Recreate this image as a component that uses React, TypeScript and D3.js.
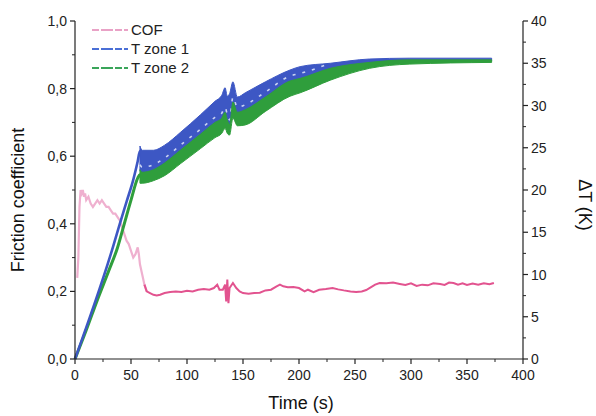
import React from "react";
import * as d3 from "d3";

const W = 596;
const H = 416;

// COF (left axis)
const cofTime = [2,3,4,5,6,7,8,9,10,12,14,16,18,20,22,24,26,28,30,32,34,36,38,40,42,44,46,48,50,52,54,56,57,58,60,62,64,67,70,73,76,80,85,90,95,100,105,110,115,120,124,127,129,132,134,135,136,137,138,141,144,147,150,155,160,165,170,175,180,183,186,190,195,200,205,208,213,218,224,230,235,240,246,251,256,260,264,268,272,278,284,290,295,300,305,310,315,320,326,330,334,338,342,346,350,355,360,365,370,374];
const cofValue = [0.24,0.30,0.45,0.50,0.49,0.50,0.48,0.49,0.47,0.48,0.46,0.45,0.46,0.47,0.46,0.47,0.46,0.45,0.45,0.44,0.43,0.43,0.42,0.41,0.39,0.37,0.35,0.34,0.32,0.30,0.31,0.33,0.31,0.28,0.25,0.22,0.20,0.195,0.19,0.188,0.19,0.195,0.198,0.2,0.198,0.202,0.2,0.205,0.207,0.205,0.21,0.22,0.205,0.205,0.22,0.17,0.235,0.165,0.21,0.225,0.21,0.2,0.195,0.193,0.195,0.196,0.203,0.205,0.215,0.22,0.215,0.212,0.213,0.21,0.2,0.205,0.198,0.205,0.207,0.21,0.206,0.203,0.2,0.198,0.2,0.204,0.212,0.22,0.225,0.224,0.226,0.222,0.219,0.224,0.216,0.22,0.218,0.224,0.222,0.219,0.226,0.225,0.22,0.224,0.219,0.223,0.22,0.224,0.221,0.225];

// Temperature rise phase (right axis, K)
const zone1RiseTime = [0,34,40,46,52,56,58,60];
const zone1Rise = [0,13.3,16.0,18.6,21.2,23.4,24.6,24.2];
const zone2RiseTime = [0,10,20,30,38,44,50,56,58,60];
const zone2Rise = [0,3.4,7.0,10.4,13.2,16.0,18.8,21.4,21.8,21.6];

// Temperature band phase (right axis, K)
const bandTime = [58,60,70,80,94,112,125,131,134,136,138,141,145,152,170,192,201,228,263,299,372];
const zone1Top = [25.2,24.7,24.7,25.3,26.8,28.9,30.5,31.2,32.1,31.1,31.4,32.8,31.0,31.5,32.8,34.2,34.6,35.0,35.5,35.6,35.6];
const zone2Top = [22.4,22.1,22.4,23.2,24.7,26.6,28.0,28.5,29.2,28.3,27.7,30.4,29.2,29.5,31.0,32.9,33.2,34.4,35.1,35.4,35.4];
const zone2Bottom = [20.8,20.8,21.1,21.7,23.1,24.9,26.2,26.7,27.3,26.7,26.5,28.5,27.6,27.7,29.3,31.1,31.5,33.0,34.4,34.9,35.1];

const xTicks = [0,50,100,150,200,250,300,350,400];
const yLeftTicks = [0,0.2,0.4,0.6,0.8,1.0];
const yRightTicks = [0,5,10,15,20,25,30,35,40];

const legendItems = [
  { label: "COF", color: "#e9a2c6" },
  { label: "T zone 1", color: "#4a6fd6" },
  { label: "T zone 2", color: "#3aa55a" },
];

const BLUE = "#3d57c4";
const GREEN = "#2f9e3c";
const PINK = "#e2538f";
const PINK_LIGHT = "#efb0cf";
const AXIS = "#222";
const FONT = "'Liberation Sans', Arial, sans-serif";

export default function App() {
  const left = 75, right = 523, top = 21, bottom = 359;
  const x = d3.scaleLinear().domain([0, 400]).range([left, right]);
  const yL = d3.scaleLinear().domain([0, 1]).range([bottom, top]);
  const yR = d3.scaleLinear().domain([0, 40]).range([bottom, top]);

  const idx = bandTime.map((_, i) => i);
  const curve = d3.curveMonotoneX;

  const blueArea = d3.area<number>()
    .x(i => x(bandTime[i]))
    .y0(i => yR(zone2Top[i]) + 1)
    .y1(i => yR(zone1Top[i]))
    .curve(curve)(idx) || "";
  const greenArea = d3.area<number>()
    .x(i => x(bandTime[i]))
    .y0(i => yR(zone2Bottom[i]))
    .y1(i => yR(zone2Top[i]))
    .curve(curve)(idx) || "";
  const dashLine = d3.line<number>()
    .x(i => x(bandTime[i]))
    .y(i => yR(zone2Top[i]) - 5)
    .curve(curve)(idx.filter(i => bandTime[i] < 250)) || "";

  const blueRise = d3.line<number>().x(i => x(zone1RiseTime[i])).y(i => yR(zone1Rise[i])).curve(curve)(zone1RiseTime.map((_, i) => i)) || "";
  const greenRise = d3.line<number>().x(i => x(zone2RiseTime[i])).y(i => yR(zone2Rise[i])).curve(curve)(zone2RiseTime.map((_, i) => i)) || "";

  const cIdx = cofTime.map((_, i) => i);
  const cofLine = d3.line<number>().x(i => x(cofTime[i])).y(i => yL(cofValue[i]));
  const cofEarly = cofLine(cIdx.filter(i => cofTime[i] <= 64)) || "";
  const cofLate = cofLine(cIdx.filter(i => cofTime[i] >= 62)) || "";

  const xMinor = d3.range(0, 401, 25).filter(v => !xTicks.includes(v));
  const yLMinor = [0.1, 0.3, 0.5, 0.7, 0.9];
  const yRMinor = d3.range(2.5, 40, 5);

  const fmtL = (v: number) => v.toFixed(1).replace(".", ",");

  return (
    <svg width={W} height={H} style={{ position: "absolute", left: 0, top: 0, background: "#fff" }} fontFamily={FONT}>
      {/* data */}
      <path d={cofEarly} fill="none" stroke={PINK_LIGHT} strokeWidth={2.2} />
      <path d={cofLate} fill="none" stroke={PINK} strokeWidth={2} />
      <path d={greenRise} fill="none" stroke={GREEN} strokeWidth={3} />
      <path d={blueRise} fill="none" stroke={BLUE} strokeWidth={2.6} />
      <path d={blueArea} fill={BLUE} stroke={BLUE} strokeWidth={1} />
      <path d={dashLine} fill="none" stroke="#c9d3f2" strokeWidth={1.6} strokeDasharray="3 7" />
      <path d={greenArea} fill={GREEN} stroke={GREEN} strokeWidth={1} />

      {/* axes */}
      <line x1={left} x2={left} y1={top} y2={bottom} stroke={AXIS} strokeWidth={1.2} />
      <line x1={right} x2={right} y1={top} y2={bottom} stroke={AXIS} strokeWidth={1.2} />
      <line x1={left} x2={right} y1={bottom} y2={bottom} stroke={AXIS} strokeWidth={1.2} />

      {xTicks.map(v => (
        <g key={"x" + v}>
          <line x1={x(v)} x2={x(v)} y1={bottom} y2={bottom + 5} stroke={AXIS} strokeWidth={1.2} />
          <text x={x(v)} y={bottom + 21} textAnchor="middle" fontSize={14} fill="#222">{v}</text>
        </g>
      ))}
      {xMinor.map(v => (
        <line key={"xm" + v} x1={x(v)} x2={x(v)} y1={bottom} y2={bottom + 3} stroke={AXIS} strokeWidth={1} />
      ))}

      {yLeftTicks.map(v => (
        <g key={"yl" + v}>
          <line x1={left - 5} x2={left} y1={yL(v)} y2={yL(v)} stroke={AXIS} strokeWidth={1.2} />
          <text x={left - 8} y={yL(v) + 5} textAnchor="end" fontSize={14} fill="#222">{fmtL(v)}</text>
        </g>
      ))}
      {yLMinor.map(v => (
        <line key={"ylm" + v} x1={left - 3} x2={left} y1={yL(v)} y2={yL(v)} stroke={AXIS} strokeWidth={1} />
      ))}

      {yRightTicks.map(v => (
        <g key={"yr" + v}>
          <line x1={right} x2={right + 5} y1={yR(v)} y2={yR(v)} stroke={AXIS} strokeWidth={1.2} />
          <text x={right + 8} y={yR(v) + 5} textAnchor="start" fontSize={14} fill="#222">{v}</text>
        </g>
      ))}
      {yRMinor.map(v => (
        <line key={"yrm" + v} x1={right} x2={right + 3} y1={yR(v)} y2={yR(v)} stroke={AXIS} strokeWidth={1} />
      ))}

      {/* axis titles */}
      <text x={301} y={409} textAnchor="middle" fontSize={18} fill="#111">Time (s)</text>
      <text transform={`translate(24,${(top + bottom) / 2 + 10}) rotate(-90)`} textAnchor="middle" fontSize={18} fill="#111">Friction coefficient</text>
      <text transform={`translate(579,205) rotate(90)`} textAnchor="middle" fontSize={18} fill="#111">ΔT (K)</text>

      {/* legend */}
      {legendItems.map((it, i) => (
        <g key={it.label}>
          <line x1={92} x2={128} y1={30 + i * 19} y2={30 + i * 19} stroke={it.color} strokeWidth={2.2} strokeDasharray="7 2 12 2" />
          <text x={131} y={35 + i * 19} fontSize={15} fill="#222">{it.label}</text>
        </g>
      ))}
    </svg>
  );
}
